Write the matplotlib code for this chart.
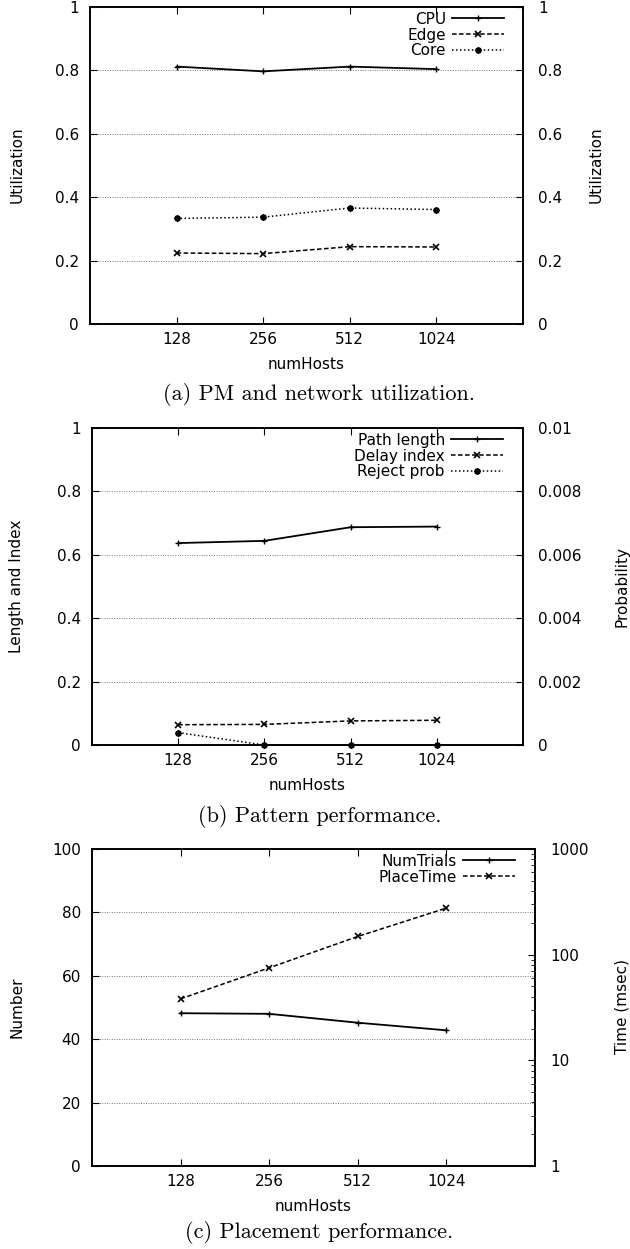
import matplotlib
matplotlib.use("Agg")
import matplotlib.pyplot as plt
from matplotlib.ticker import LogLocator, NullFormatter

plt.rcParams['font.family'] = ['DejaVu Sans']

# shared x categories
hosts = ["128", "256", "512", "1024"]

# (a) PM and network utilization
cpu = [0.812, 0.797, 0.812, 0.804]
edge = [0.224, 0.222, 0.244, 0.243]
core = [0.333, 0.337, 0.366, 0.361]

# (b) Pattern performance
path_len = [0.637, 0.644, 0.687, 0.689]
delay_idx = [0.064, 0.065, 0.076, 0.078]
reject_prob = [0.00039, 0.0, 0.0, 0.0]

# (c) Placement performance
num_trials = [48.2, 48.0, 45.2, 42.8]
place_time = [38.2, 75.1, 148.7, 276.0]

W, H = 630, 1249
fig = plt.figure(figsize=(W / 100, H / 100), dpi=100)

FS = 11
styles = {
    "solid": dict(color="black", lw=1.3, ls="-", marker="+", ms=5, mew=1.0),
    "dash": dict(color="black", lw=1.1, ls=(0, (3.0, 1.6)), marker="x", ms=4, mew=1.2),
    "dot": dict(color="black", lw=1.1, ls=(0, (1.0, 1.6)), marker=(8, 2, 0), ms=4.5, mew=1.3),
}


def make_axes(left, right, top, bottom):
    rect = [left / W, 1 - bottom / H, (right - left) / W, (bottom - top) / H]
    ax = fig.add_axes(rect)
    ax2 = ax.twinx()
    ax.set_xlim(-1, 4)
    ax.set_xticks(list(range(len(hosts))))
    ax.set_xticklabels(hosts, fontsize=FS)
    ax.tick_params(axis="x", direction="in", top=True, length=5, width=0.8, pad=6)
    ax.tick_params(axis="y", direction="in", length=5, width=0.8, pad=8, labelsize=FS)
    ax2.tick_params(axis="y", direction="in", length=5, width=0.8, pad=11, labelsize=FS)
    ax2.tick_params(axis="y", which="minor", direction="in", length=3, width=0.6)
    ax.grid(axis="y", ls=(0, (1, 1.5)), color="#777777", lw=0.7)
    ax.set_axisbelow(True)
    for s in list(ax.spines.values()) + list(ax2.spines.values()):
        s.set_linewidth(1.2)
    ax.set_xlabel("numHosts", fontsize=FS, labelpad=7)
    return ax, ax2


def finish(left_lbl, right_lbl, rx, cy, caption, cap_y):
    fig.text(17 / W, 1 - cy / H, left_lbl, rotation=90, ha="center", va="center", fontsize=FS)
    fig.text(rx / W, 1 - cy / H, right_lbl, rotation=90, ha="center", va="center", fontsize=FS)
    fig.text(0.507, 1 - cap_y / H, caption, ha="center", va="center",
             fontsize=16, family="cmr10")


def legend(ax, lines, right_px, width_px):
    # upper right corner of the key, in axes fraction
    ax.legend(handles=lines, loc="upper right", frameon=False, markerfirst=False,
              fontsize=FS, handlelength=3.4, handletextpad=0.4, labelspacing=0.05,
              borderaxespad=0.0, borderpad=0.0,
              bbox_to_anchor=(1 - (right_px) / width_px, 0.985))


x = list(range(len(hosts)))

# ---- (a)
ax, ax2 = make_axes(90, 523, 7, 324)
l1, = ax.plot(x, cpu, label="CPU", **styles["solid"])
l2, = ax.plot(x, edge, label="Edge", **styles["dash"])
l3, = ax.plot(x, core, label="Core", **styles["dot"])
ticks = [0, 0.2, 0.4, 0.6, 0.8, 1]
labels = ["0", "0.2", "0.4", "0.6", "0.8", "1"]
ax.set_ylim(0, 1)
ax.set_yticks(ticks)
ax.set_yticklabels(labels)
ax2.set_ylim(0, 1)
ax2.set_yticks(ticks)
ax2.set_yticklabels(labels)
legend(ax, [l1, l2, l3], 19, 433)
finish("Utilization", "Utilization", 596, 165, "(a) PM and network utilization.", 395)

# ---- (b)
ax, ax2 = make_axes(92, 523, 428, 745)
l1, = ax.plot(x, path_len, label="Path length", **styles["solid"])
l2, = ax.plot(x, delay_idx, label="Delay index", **styles["dash"])
l3, = ax2.plot(x, reject_prob, label="Reject prob", clip_on=False, **styles["dot"])
ax.set_ylim(0, 1)
ax.set_yticks(ticks)
ax.set_yticklabels(labels)
ax2.set_ylim(0, 0.01)
ax2.set_yticks([0, 0.002, 0.004, 0.006, 0.008, 0.01])
ax2.set_yticklabels(["0", "0.002", "0.004", "0.006", "0.008", "0.01"])
legend(ax, [l1, l2, l3], 20, 431)
finish("Length and Index", "Probability", 622, 586, "(b) Pattern performance.", 816)

# ---- (c)
ax, ax2 = make_axes(92, 535, 849, 1166)
l1, = ax.plot(x, num_trials, label="NumTrials", **styles["solid"])
l2, = ax2.plot(x, place_time, label="PlaceTime", **styles["dash"])
ax.set_ylim(0, 100)
ax.set_yticks([0, 20, 40, 60, 80, 100])
ax2.set_yscale("log")
ax2.set_ylim(1, 1000)
ax2.set_yticks([1, 10, 100, 1000])
ax2.set_yticklabels(["1", "10", "100", "1000"])
ax2.yaxis.set_minor_locator(LogLocator(base=10, subs=range(2, 10)))
ax2.yaxis.set_minor_formatter(NullFormatter())
legend(ax, [l1, l2], 20, 443)
finish("Number", "Time (msec)", 622, 1007, "(c) Placement performance.", 1233)

fig.savefig("out.png", dpi=100)
